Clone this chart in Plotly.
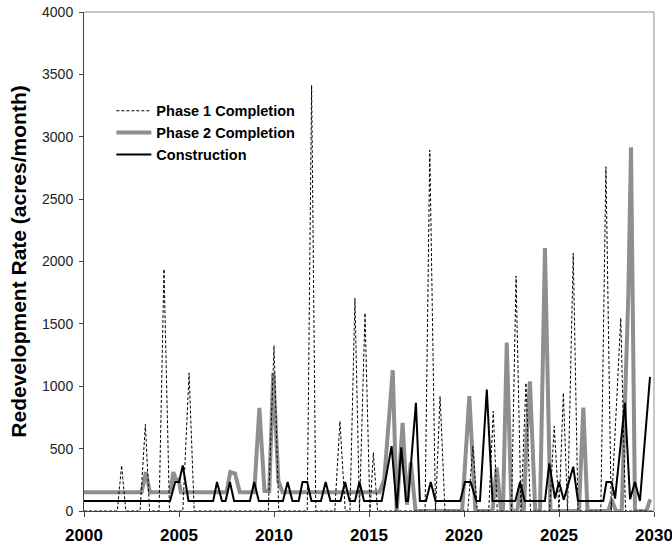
import plotly.graph_objects as go

# ---- data (decimal year, acres/month) ----
phase1_x = [2000.0, 2001.75, 2001.98, 2002.2, 2002.95, 2003.23, 2003.45, 2003.95, 2004.21, 2004.5,
            2005.2, 2005.53, 2005.8, 2009.7, 2010.0, 2010.25, 2011.75, 2011.98, 2012.2, 2013.2,
            2013.47, 2013.75, 2014.0, 2014.26, 2014.5, 2014.79, 2015.05, 2015.23, 2015.45, 2017.95,
            2018.2, 2018.5, 2018.74, 2019.0, 2020.2, 2020.47, 2020.7, 2021.3, 2021.54, 2021.75,
            2022.5, 2022.74, 2023.0, 2023.26, 2023.5, 2024.5, 2024.75, 2025.0, 2025.23, 2025.45,
            2025.75, 2026.0, 2027.2, 2027.47, 2027.75, 2028.25, 2028.5, 2029.9]
phase1_y = [0, 0, 365, 0, 0, 694, 0, 0, 1939, 0,
            0, 1107, 0, 0, 1326, 0, 0, 3414, 0, 0,
            720, 0, 0, 1707, 0, 1587, 0, 467, 0, 0,
            2893, 0, 920, 0, 0, 520, 0, 0, 800, 0,
            0, 1883, 0, 1027, 0, 0, 680, 0, 947, 0,
            2067, 0, 0, 2760, 0, 1547, 0, 0]

phase2_x = [2000.0, 2003.03, 2003.26, 2003.47, 2004.55, 2004.7, 2004.85, 2004.98, 2005.1, 2007.5,
            2007.7, 2007.95, 2008.2, 2008.96, 2009.23, 2009.5, 2009.75, 2009.96, 2010.23, 2010.45,
            2015.55, 2015.8, 2016.25, 2016.46, 2016.77, 2017.0, 2017.2, 2017.45, 2019.9, 2020.28,
            2020.6, 2021.5, 2021.72, 2021.95, 2022.05, 2022.25, 2022.5, 2022.8, 2023.0, 2023.15,
            2023.3, 2023.47, 2023.75, 2024.0, 2024.26, 2024.55, 2026.05, 2026.28, 2026.5, 2027.6,
            2027.77, 2028.0, 2028.3, 2028.47, 2028.65, 2028.79, 2029.0, 2029.6, 2029.8]
phase2_y = [150, 150, 312, 150, 150, 312, 250, 250, 150, 150,
            312, 300, 150, 150, 827, 160, 160, 1107, 240, 150,
            150, 250, 1128, 0, 707, 50, 390, 0, 0, 920,
            0, 0, 350, 0, 0, 1350, 0, 0, 213, 0,
            600, 1040, 0, 0, 2107, 0, 0, 830, 0, 0,
            90, 0, 0, 867, 1747, 2915, 0, 0, 93]

constr_x = [2000.0, 2004.53, 2004.8, 2005.0, 2005.2, 2005.5, 2006.8, 2007.0, 2007.26, 2007.45,
            2007.68, 2007.9, 2008.73, 2008.96, 2009.2, 2010.47, 2010.72, 2010.97, 2011.3, 2011.5,
            2011.75, 2011.97, 2012.47, 2012.72, 2012.97, 2013.5, 2013.74, 2013.98, 2014.26, 2014.5,
            2014.74, 2015.67, 2016.19, 2016.46, 2016.7, 2016.95, 2017.05, 2017.47, 2017.68, 2018.0,
            2018.25, 2018.5, 2019.8, 2020.05, 2020.35, 2020.65, 2020.84, 2021.2, 2021.5, 2022.7,
            2022.95, 2023.2, 2024.26, 2024.49, 2024.79, 2025.0, 2025.25, 2025.75, 2026.0, 2027.33,
            2027.5, 2027.77, 2027.95, 2028.47, 2028.74, 2029.0, 2029.26, 2029.79]
constr_y = [80, 80, 232, 232, 365, 80, 80, 232, 80, 80,
            232, 80, 80, 232, 80, 80, 232, 80, 80, 232,
            232, 80, 80, 232, 80, 80, 232, 80, 80, 232,
            80, 80, 520, 20, 510, 80, 80, 867, 80, 80,
            232, 80, 80, 232, 232, 80, 80, 973, 80, 80,
            232, 80, 80, 381, 100, 232, 90, 355, 80, 80,
            232, 232, 100, 867, 95, 232, 80, 1075]

x_ticks = [2000, 2005, 2010, 2015, 2020, 2025, 2030]
y_ticks = [0, 500, 1000, 1500, 2000, 2500, 3000, 3500, 4000]

fig = go.Figure()
fig.add_trace(go.Scatter(x=phase2_x, y=phase2_y, mode="lines", name="Phase 2 Completion",
                         line=dict(color="#8f8f8f", width=4), legendrank=2))
fig.add_trace(go.Scatter(x=phase1_x, y=phase1_y, mode="lines", name="Phase 1 Completion",
                         line=dict(color="black", width=1, dash="3px,2px"), legendrank=1))
fig.add_trace(go.Scatter(x=constr_x, y=constr_y, mode="lines", name="Construction",
                         line=dict(color="black", width=2), legendrank=3))

fig.update_layout(
    width=672, height=547,
    margin=dict(l=84, r=18, t=12, b=36),
    paper_bgcolor="white", plot_bgcolor="white",
    font=dict(family="Arial, Liberation Sans, sans-serif", color="black", size=12),
    showlegend=True,
    legend=dict(x=0.048, y=0.834, xanchor="left", yanchor="top",
                bgcolor="rgba(0,0,0,0)", font=dict(size=14.5, weight="bold"),
                tracegroupgap=0, itemwidth=35),
    xaxis=dict(range=[2000, 2030], tickvals=x_ticks, ticktext=[str(t) for t in x_ticks],
               showgrid=False, zeroline=False, showline=True, linecolor="#404040", linewidth=1,
               ticks="outside", ticklen=5, tickcolor="#404040", automargin=False,
               ticklabelstandoff=4, ticklabeloverflow="allow",
               tickfont=dict(size=17, weight="bold")),
    yaxis=dict(range=[0, 4000], tickvals=y_ticks, showgrid=False, zeroline=False,
               showline=True, linecolor="#404040", linewidth=1, automargin=False,
               ticks="outside", ticklen=4, tickcolor="#404040", ticklabelstandoff=3,
               ticklabeloverflow="allow",
               tickfont=dict(size=14, color="#222"),
               title=dict(text="Redevelopment Rate (acres/month)", font=dict(size=21, weight="bold"),
                          standoff=9)),
    shapes=[
        dict(type="line", xref="paper", yref="paper", x0=0, x1=1, y0=1, y1=1,
             line=dict(color="#909090", width=1)),
        dict(type="line", xref="paper", yref="paper", x0=1, x1=1, y0=0, y1=1,
             line=dict(color="#909090", width=1)),
    ],
)

fig.write_html("out.html", config={"displayModeBar": False},
               post_script="document.body.style.margin='0';document.body.style.overflow='hidden';")
